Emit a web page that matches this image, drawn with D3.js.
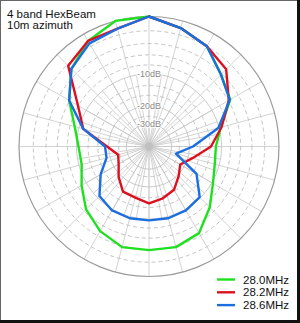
<!DOCTYPE html>
<html><head><meta charset="utf-8">
<script src="https://cdn.jsdelivr.net/npm/d3@7/dist/d3.min.js"></script>
<style>html,body{margin:0;padding:0;background:#fff;}svg{display:block;}</style>
</head><body>
<script>
// ---- data ----
const angles = [0,15,30,45,60,75,90,105,120,135,150,165,180,195,210,225,240,255,270,285,300,315,330,345];
const seriesNames = ["28.0MHz","28.2MHz","28.6MHz"];
const gain280 = [0,-1.0,-2.0,-4.2,-5.6,-9.6,-11.4,-11.1,-9.7,-7.1,-4.5,-3.8,-3.9,-3.8,-4.9,-6.5,-8.8,-10.7,-10.5,-9.0,-5.9,-2.9,-1.1,0];
const gain282 = [0,-1.0,-2.0,-3.0,-5.9,-9.4,-12.7,-18.2,-22.0,-19.4,-16.4,-15.2,-14.2,-15.4,-15.7,-19.0,-22.5,-24.1,-19.4,-11.1,-7.9,-2.2,-1.1,-1.1];
const gain286 = [0,-1.0,-2.0,-4.2,-5.7,-10.2,-18.6,-26.4,-14.8,-10.2,-9.7,-9.6,-9.7,-9.6,-9.7,-10.6,-14.5,-18.6,-18.6,-11.1,-5.9,-2.9,-1.5,-1.1];
const ringLabels = ["-10dB","-20dB","-30dB"];
const ringSolid = [-10,-20,-30];
const ringDashed = [-2,-4,-6,-8,-13,-16,-25];
const title = ["4 band HexBeam","10m azimuth"];
const colors = ["#1fe01f","#dd1020","#1a6ee0"];

const W = 300, H = 323, cx = 149, cy = 146.5, R = 130;
const svg = d3.select("body").append("svg").attr("width", W).attr("height", H);
svg.append("rect").attr("x",0).attr("y",0).attr("width",W).attr("height",H).attr("fill","#fff");

// ARRL log-periodic scale: radius = R*0.89^(-dB/2) == pow scale of linear power
const rPow = d3.scalePow().exponent(0.2531).domain([0,1]).range([0,R]);
const r = db => rPow(Math.pow(10, db/10));
const a = d3.scaleLinear().domain([0,360]).range([0, 2*Math.PI]);

const g = svg.append("g").attr("transform", `translate(${cx},${cy})`);

// spokes
const inner = d3.range(0,360,10);
g.selectAll("line.sp1").data(inner).join("line")
  .attr("x1",0).attr("y1",0)
  .attr("x2",d=>r(-10)*Math.sin(a(d))).attr("y2",d=>-r(-10)*Math.cos(a(d)))
  .attr("stroke","#c8c8c8").attr("stroke-width",0.8);
const outer = d3.range(0,360,15);
g.selectAll("line.sp2").data(outer).join("line")
  .attr("x1",0).attr("y1",0)
  .attr("x2",d=>R*Math.sin(a(d))).attr("y2",d=>-R*Math.cos(a(d)))
  .attr("stroke","#c8c8c8").attr("stroke-width",0.8);
g.append("circle").attr("r",4).attr("fill","#bbb").attr("opacity",0.6);

// rings
g.selectAll("circle.d").data(ringDashed).join("circle")
  .attr("r",d=>r(d)).attr("fill","none").attr("stroke","#bdbdbd")
  .attr("stroke-width",0.9).attr("stroke-dasharray","4,3");
g.selectAll("circle.s").data(ringSolid).join("circle")
  .attr("r",d=>r(d)).attr("fill","none").attr("stroke","#c4c4c4").attr("stroke-width",0.9);
g.append("circle").attr("r",R).attr("fill","none").attr("stroke","#9a9a9a").attr("stroke-width",1.2);

// ring labels
g.selectAll("text.rl").data(ringSolid).join("text")
  .attr("x",0).attr("y",d=>-r(d)).attr("text-anchor","middle").attr("dominant-baseline","central")
  .attr("font-family","Liberation Sans, Arial, sans-serif").attr("font-size",9)
  .attr("fill","#8a8a8a").attr("stroke","#fff").attr("stroke-width",2).attr("paint-order","stroke")
  .text((d,i)=>ringLabels[i]);

// curves
const line = d3.lineRadial().angle(d=>a(d[0])).radius(d=>r(d[1])).curve(d3.curveLinearClosed);
[gain280,gain282,gain286].forEach((s,i)=>{
  g.append("path").attr("d", line(angles.map((ang,j)=>[ang,s[j]])))
   .attr("fill","none").attr("stroke",colors[i]).attr("stroke-width",2.4).attr("stroke-linejoin","round");
});

// title
svg.selectAll("text.t").data(title).join("text")
  .attr("x",7).attr("y",(d,i)=>18+i*11.3)
  .attr("font-family","Liberation Sans, Arial, sans-serif").attr("font-size",11.5).attr("fill","#111")
  .text(d=>d);

// legend
const lg = svg.append("g");
seriesNames.forEach((n,i)=>{
  const y = 279.5 + i*12.8;
  lg.append("line").attr("x1",217).attr("x2",235).attr("y1",y).attr("y2",y)
    .attr("stroke",colors[i]).attr("stroke-width",2.4);
  lg.append("text").attr("x",243).attr("y",y).attr("dominant-baseline","central")
    .attr("font-family","Liberation Sans, Arial, sans-serif").attr("font-size",11.5).attr("fill","#111").text(n);
});

// frame
svg.append("rect").attr("x",0.5).attr("y",0.5).attr("width",W-1).attr("height",H-1)
  .attr("fill","none").attr("stroke","#666").attr("stroke-width",1);
svg.append("line").attr("x1",W-1.5).attr("x2",W-1.5).attr("y1",0).attr("y2",H).attr("stroke","#111").attr("stroke-width",3);
svg.append("line").attr("x1",0).attr("x2",W).attr("y1",H-1.5).attr("y2",H-1.5).attr("stroke","#111").attr("stroke-width",3);
</script>
</body></html>
